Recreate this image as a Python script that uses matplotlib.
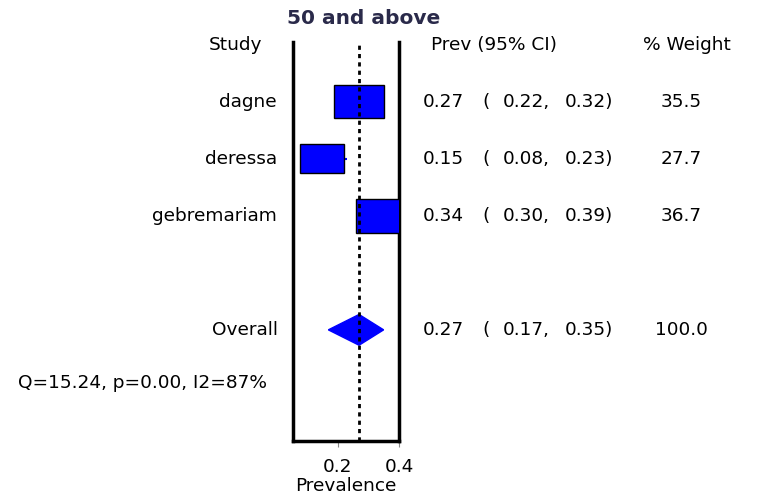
import matplotlib
matplotlib.use("Agg")
import matplotlib.pyplot as plt
import matplotlib.transforms as mtransforms
from matplotlib.patches import Rectangle, Polygon
import numpy as np

# data
studies = ["dagne", "deressa", "gebremariam"]
prev = [0.27, 0.15, 0.34]
ci_low = [0.22, 0.08, 0.30]
ci_high = [0.32, 0.23, 0.39]
weights = [35.5, 27.7, 36.7]
overall = 0.27
overall_low = 0.17
overall_high = 0.35
overall_weight = 100.0
het_text = "Q=15.24, p=0.00, I2=87%"
title = "50 and above"

plt.rcParams['font.family'] = ['DejaVu Sans']
fs = 13.3

fig = plt.figure(figsize=(7.57, 4.95), dpi=100)
W, H = 757, 495
ax = fig.add_axes([293 / W, 54 / H, 106 / W, 399 / H])

rows = np.arange(len(studies))
overall_row = 4
ax.set_xlim(0.055, 0.4)
ax.set_ylim(5.95, -1.05)

# CI lines then boxes
ax.hlines(rows, ci_low, ci_high, color='#0000ff', lw=1.5, zorder=2)
for r, p, w in zip(rows, prev, weights):
    bw = 0.0269 * np.sqrt(w)
    bh = 0.097 * np.sqrt(w)
    ax.add_patch(Rectangle((p - bw / 2, r - bh / 2), bw, bh, facecolor='#0000ff',
                           edgecolor='black', lw=1, zorder=3))

dh = 0.27
ax.add_patch(Polygon([(overall_low, overall_row), (overall, overall_row - dh),
                      (overall_high, overall_row), (overall, overall_row + dh)],
                     closed=True, facecolor='#0000ff', edgecolor='#0000ff', lw=1, zorder=3))

ax.axvline(overall, color='black', ls=(0, (1.5, 1.5)), lw=2, zorder=4)

for s in ['left', 'right', 'bottom']:
    ax.spines[s].set_linewidth(2.5)
ax.spines['top'].set_visible(False)
ax.set_yticks([])
ax.set_xticks([0.2, 0.4])
ax.set_xticklabels(["0.2", "0.4"], fontsize=fs)
ax.tick_params(axis='x', length=4, width=0.8, color='#888888', pad=8)
ax.set_xlabel("Prevalence", fontsize=fs, labelpad=1)

tr = mtransforms.blended_transform_factory(fig.transFigure, ax.transData)

def put(px, row, s, ha='left', **kw):
    ax.text(px / W, row, s, transform=tr, ha=ha, va='center', fontsize=fs, **kw)

# headers
put(262, -1, "Study", ha='right')
put(431, -1, "Prev (95% CI)")
put(643, -1, "% Weight")
fig.text(287 / W, 1 - 18 / H, title, ha='left', va='center', fontsize=14.5,
         fontweight='bold', color='#2a2a4a')

def num_row(row, est, lo, hi, w):
    put(423, row, f"{est:.2f}")
    put(482, row, "(")
    put(503, row, f"{lo:.2f},")
    put(565, row, f"{hi:.2f})")
    put(681, row, f"{w:.1f}", ha='center')

for r, name, p, lo, hi, w in zip(rows, studies, prev, ci_low, ci_high, weights):
    put(277, r, name, ha='right')
    num_row(r, p, lo, hi, w)

put(278, overall_row, "Overall", ha='right')
num_row(overall_row, overall, overall_low, overall_high, overall_weight)
put(18, 4.93, het_text)

fig.savefig("out.png", dpi=100)
